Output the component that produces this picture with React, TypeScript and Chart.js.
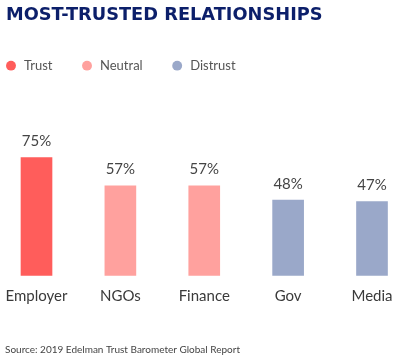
import React, { useEffect, useRef } from "react";
import { Chart, registerables } from "chart.js";

Chart.register(...registerables);

const TITLE = "MOST-TRUSTED RELATIONSHIPS";
const SOURCE = "Source: 2019 Edelman Trust Barometer Global Report";
const categories = ["Employer", "NGOs", "Finance", "Gov", "Media"];
const trustValues = [75, 57, 57, 48, 47];
const trustLevels = ["Trust", "Neutral", "Neutral", "Distrust", "Distrust"];
const legendLabels = ["Trust", "Neutral", "Distrust"];

const LEVEL_COLORS: Record<string, string> = {
  Trust: "#FF5D5B",
  Neutral: "#FFA19E",
  Distrust: "#9AA8C9",
};

const BODY_FONT = "Lato, 'Noto Sans', sans-serif";
const TITLE_FONT = "'DejaVu Sans', Inter, sans-serif";

const valueLabels = {
  id: "valueLabels",
  afterDatasetsDraw(chart: any) {
    const ctx = chart.ctx;
    const meta = chart.getDatasetMeta(0);
    ctx.save();
    ctx.font = `15px ${BODY_FONT}`;
    ctx.fillStyle = "#444";
    ctx.textAlign = "center";
    ctx.textBaseline = "alphabetic";
    meta.data.forEach((bar: any, i: number) => {
      ctx.fillText(`${trustValues[i]}%`, bar.x, bar.y - 11.5);
    });
    ctx.restore();
  },
};

const boxShift = {
  id: "boxShift",
  afterLayout(chart: any) {
    const legend = chart.legend;
    if (legend) {
      const pad = legend.options.labels.padding;
      const w = legend.right - legend.left;
      legend.left = 4.5 - pad;
      legend.right = legend.left + w;
    }
    chart.boxes.forEach((b: any) => {
      if (b.options && b.options.text === TITLE) {
        const w = b.right - b.left;
        b.left = 6;
        b.right = 6 + w;
      }
      if (b.options && b.options.text === SOURCE) {
        const w = b.right - b.left;
        b.left = 5;
        b.right = 5 + w;
      }
    });
  },
};

export default function App() {
  const canvasRef = useRef<HTMLCanvasElement | null>(null);

  useEffect(() => {
    if (!canvasRef.current) return;
    const chart = new Chart(canvasRef.current, {
      type: "bar",
      data: {
        labels: categories,
        datasets: [
          {
            data: trustValues,
            backgroundColor: trustLevels.map((l) => LEVEL_COLORS[l]),
            borderWidth: 0,
            barThickness: 31,
            clip: false as any,
          },
        ],
      },
      options: {
        animation: false,
        responsive: true,
        maintainAspectRatio: false,
        layout: { padding: { left: 36.5, right: 32, top: 0, bottom: 0 } },
        plugins: {
          tooltip: { enabled: false },
          title: {
            display: true,
            text: TITLE,
            align: "start",
            color: "#0C1F6A",
            font: { family: TITLE_FONT, size: 17.8, weight: "bold" },
            padding: { top: 4.3, bottom: 5.5 },
          },
          subtitle: {
            display: true,
            text: SOURCE,
            position: "bottom",
            align: "start",
            color: "#444",
            font: { family: BODY_FONT, size: 10 },
            padding: { top: 26.5, bottom: 6 },
          },
          legend: {
            display: true,
            position: "top",
            align: "start",
            labels: {
              usePointStyle: true,
              pointStyle: "circle",
              boxWidth: 13,
              boxHeight: 7,
              padding: 28,
              color: "#555",
              font: { family: BODY_FONT, size: 13 },
              generateLabels: () =>
                legendLabels.map((l) => ({
                  text: l,
                  fillStyle: LEVEL_COLORS[l],
                  strokeStyle: LEVEL_COLORS[l],
                  lineWidth: 0,
                  pointStyle: "circle",
                  hidden: false,
                  fontColor: "#555",
                })),
            },
            onClick: () => {},
          },
        },
        scales: {
          x: {
            offset: false,
            grid: { display: false, drawTicks: false },
            border: { display: false },
            ticks: {
              color: "#3a3a3a",
              padding: 12,
              font: { family: BODY_FONT, size: 15 },
              maxRotation: 0,
              autoSkip: false,
            },
            afterFit: (scale: any) => {
              scale.paddingLeft = 0;
              scale.paddingRight = 0;
            },
          },
          y: {
            display: false,
            min: 0,
            max: 123,
          },
        },
      },
      plugins: [valueLabels, boxShift],
    });
    return () => chart.destroy();
  }, []);

  return (
    <div style={{ position: "fixed", left: 0, top: 0, width: 404, height: 362, background: "#fff" }}>
      <canvas ref={canvasRef} />
    </div>
  );
}
